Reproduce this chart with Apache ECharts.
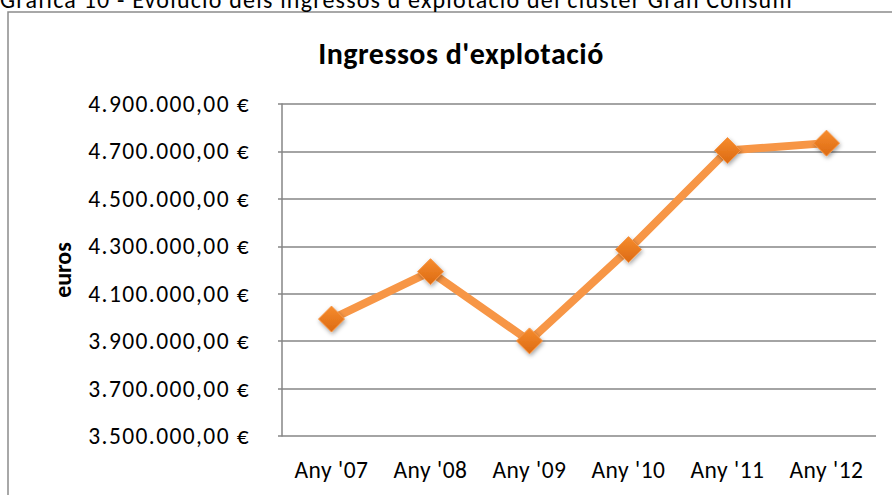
<!DOCTYPE html>
<html>
<head>
<meta charset="utf-8">
<script src="https://cdn.jsdelivr.net/npm/echarts@6/dist/echarts.min.js"></script>
<style>
html,body{margin:0;padding:0;background:#fff;}
#main{width:892px;height:495px;}
</style>
</head>
<body>
<div id="main"></div>
<script>
var categories = ["Any '07", "Any '08", "Any '09", "Any '10", "Any '11", "Any '12"];
var ingressos = [3993000, 4193000, 3901000, 4286000, 4704000, 4735000];
var yMin = 3500000, yMax = 4900000, yStep = 200000;

var FONT = "Carlito, 'Open Sans', sans-serif";

function euro(v){
	var s = String(Math.round(v));
	var out = "";
	while(s.length > 3){
		out = "." + s.slice(-3) + out;
		s = s.slice(0, -3);
	}
	return s + out + ",00 €";
}

// the original text is a bit wider than Carlito, open it up a little
function spaceText(){
	var texts = document.querySelectorAll('#main svg text');
	for(var i=0;i<texts.length;i++){
		var t = texts[i].textContent;
		if(t.indexOf('€') >= 0) texts[i].style.letterSpacing = '1.4px';
		else if(t.indexOf('Gràfica') === 0) texts[i].style.letterSpacing = '1.2px';
		else if(t.indexOf('Ingressos') === 0) texts[i].style.letterSpacing = '0.5px';
		else if(t.indexOf('Any') === 0) texts[i].style.letterSpacing = '0.5px';
	}
}

var chart = echarts.init(document.getElementById('main'), null, {renderer: 'svg'});
var option = {
	animation: false,
	backgroundColor: '#fff',
	graphic: [
		{
			type: 'rect',
			shape: {x: 8, y: 12, width: 900, height: 500},
			style: {fill: 'none', stroke: '#8c8c8c', lineWidth: 1.5},
			z: -1
		},
		{
			type: 'text',
			x: 0, y: 11,
			style: {
				text: "Gràfica 10 - Evolució dels ingressos d'explotació del clúster Gran Consum",
				font: "24px " + FONT, fill: '#000', verticalAlign: 'bottom'
			}
		}
	],
	title: {
		text: "Ingressos d'explotació",
		left: 456, top: 33,
		textAlign: 'center',
		textStyle: {fontFamily: FONT, fontSize: 30, fontWeight: 'bold', color: '#000'}
	},
	grid: {left: 282, right: 16, top: 104, bottom: 59},
	xAxis: {
		type: 'category',
		data: categories,
		boundaryGap: true,
		axisLine: {show: false},
		axisTick: {show: false},
		axisLabel: {color: '#000', fontFamily: FONT, fontSize: 23.5, margin: 22}
	},
	yAxis: {
		type: 'value',
		min: yMin, max: yMax, interval: yStep,
		name: 'euros',
		nameLocation: 'middle',
		nameGap: 208,
		nameRotate: 90,
		nameTextStyle: {color: '#000', fontFamily: FONT, fontSize: 24, fontWeight: 'bold'},
		axisLine: {show: true, lineStyle: {color: '#868686', width: 1.5}},
		axisTick: {show: true, length: 4, lineStyle: {color: '#868686', width: 1.5}},
		splitLine: {lineStyle: {color: '#868686', width: 1.5}},
		axisLabel: {color: '#000', fontFamily: FONT, fontSize: 23.5, margin: 32, formatter: euro}
	},
	series: [{
		name: 'Ingressos',
		type: 'line',
		data: ingressos,
		lineStyle: {color: '#F79646', width: 8},
		symbol: 'diamond',
		symbolSize: 26,
		itemStyle: {
			color: new echarts.graphic.LinearGradient(0, 0, 0, 1, [
				{offset: 0, color: '#F68C2E'},
				{offset: 1, color: '#DC6A12'}
			]),
			borderColor: '#F79646', borderWidth: 1,
			shadowColor: 'rgba(0,0,0,0.35)', shadowBlur: 4, shadowOffsetX: 1, shadowOffsetY: 2
		},
		z: 3
	}]
};
chart.on('finished', spaceText);
chart.setOption(option);
spaceText();
setTimeout(spaceText, 50);
</script>
</body>
</html>
